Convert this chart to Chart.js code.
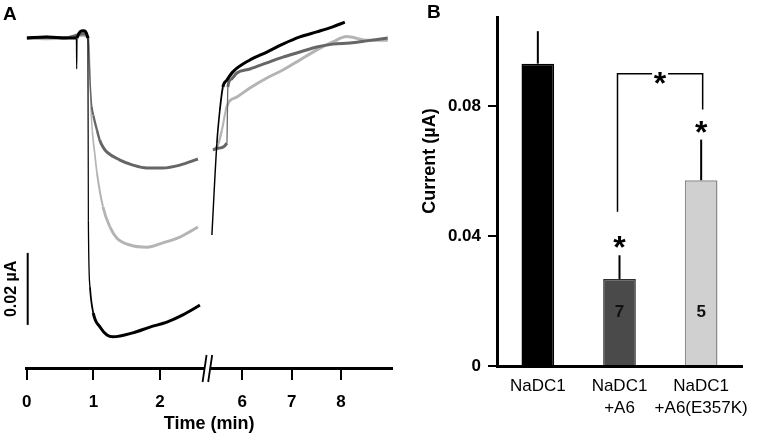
<!DOCTYPE html>
<html>
<head>
<meta charset="utf-8">
<script src="https://cdn.jsdelivr.net/npm/chart.js@4.4.0/dist/chart.umd.min.js"></script>
<style>
  body { margin: 0; background: #fff; }
  #wrapA { position: absolute; left: 0; top: 0; width: 400px; height: 438px; }
  #wrapB { position: absolute; left: 400px; top: 0; width: 361px; height: 438px; }
</style>
</head>
<body>
<div id="wrapA"><canvas id="traceChart" width="400" height="438"></canvas></div>
<div id="wrapB"><canvas id="barChart" width="361" height="438"></canvas></div>
<script>
// Panel A - current traces, time in min, current in uA relative to baseline
// (null current = axis break)
var blackTime = [0, 0.3, 0.6, 0.745, 0.75, 0.755, 0.85, 0.918, 0.925, 0.949, 0.9985, 1.099, 1.204, 1.294, 1.594, 1.849, 2.103, 2.343, 2.598,
                 2.7, 5.388, 5.489, 5.549, 5.610, 5.691, 5.812, 6.156, 6.499, 6.822, 7.166, 7.509, 7.832, 8.075];
var blackCurrent = [0, 0.0003, 0, 0, -0.0086, 0, 0.0020, 0, -0.0506, -0.0692, -0.0764, -0.0803, -0.0825, -0.0830, -0.0819, -0.0803, -0.0789, -0.0769, -0.0742,
                    null, -0.0547, -0.0292, -0.0200, -0.0136, -0.0117, -0.0094, -0.0061, -0.0039, -0.0017, 0.0003, 0.0017, 0.0031, 0.0044];

var darkTime = [0, 0.3, 0.6, 0.85, 0.92, 0.95, 0.975, 1.0, 1.054, 1.094, 1.144, 1.204, 1.399, 1.594, 1.804, 2.043, 2.298, 2.568,
                2.7, 5.408, 5.509, 5.691, 5.711, 5.772, 5.893, 6.156, 6.499, 6.822, 7.166, 7.509, 7.832, 8.176, 8.519, 8.943];
var darkCurrent = [0, 0.0002, 0.0001, 0.0012, 0, -0.0120, -0.0190, -0.0215, -0.0256, -0.0283, -0.0303, -0.0317, -0.0339, -0.0353, -0.0361, -0.0361, -0.0353, -0.0336,
                   null, -0.0311, -0.0306, -0.0292, -0.0136, -0.0115, -0.0097, -0.0086, -0.0069, -0.0053, -0.0039, -0.0025, -0.0017, -0.0014, -0.0008, 0];

var lightTime = [0, 0.3, 0.6, 0.85, 0.93, 0.965, 0.985, 1.02, 1.054, 1.144, 1.249, 1.354, 1.549, 1.804, 2.043, 2.298, 2.568,
                 2.7, 5.428, 5.509, 5.590, 5.671, 5.731, 5.893, 6.156, 6.499, 6.822, 7.166, 7.509, 7.832, 8.115, 8.519, 8.943];
var lightCurrent = [0, -0.0002, 0.0001, 0.0008, 0, -0.0200, -0.0260, -0.0320, -0.0375, -0.0469, -0.0525, -0.0556, -0.0575, -0.0581, -0.0569, -0.0553, -0.0525,
                    null, -0.0311, -0.0297, -0.0256, -0.0200, -0.0178, -0.0164, -0.0139, -0.0111, -0.0089, -0.0061, -0.0033, -0.0011, 0.0004, -0.0006, -0.0006];

var timeTicks = [0, 1, 2, 6, 7, 8];
var scaleBarTop = -0.0597;
var scaleBarSize = 0.02;

// Panel B - mean current and SEM
var groups = [['NaDC1'], ['NaDC1', '+A6'], ['NaDC1', '+A6(E357K)']];
var meanCurrent = [0.0931, 0.0268, 0.0572];
var semCurrent = [0.0100, 0.0073, 0.0125];
var nCells = ['', '7', '5'];
var starred = [false, true, true];
var yTicksB = [0, 0.04, 0.08];

var FONT = '"Liberation Sans", Arial, sans-serif';
Chart.defaults.font.family = FONT;
Chart.defaults.color = '#000';

// the second time segment is drawn compressed after the break
function toAxis(t) { return t < 4 ? t : 3.232 + 0.742 * (t - 6); }
function trace(times, currents) {
  return times.map(function (t, i) { return {x: toAxis(t), y: currents[i]}; });
}
// noisy flat parts look thick, fast jumps are thin
function segWidth(ctx) {
  var dx = Math.abs(ctx.p1.x - ctx.p0.x), dy = Math.abs(ctx.p1.y - ctx.p0.y);
  return 1.2 + 1.8 * Math.min(1, 2.5 * dx / Math.max(dy, 0.01));
}

var tracePlugin = {
  id: 'traceDeco',
  afterDraw: function (chart) {
    var ctx = chart.ctx, ca = chart.chartArea, xs = chart.scales.x, ys = chart.scales.y;
    ctx.save();
    // scale bar
    var bx = xs.getPixelForValue(0) + 1;
    var by0 = ys.getPixelForValue(scaleBarTop), by1 = ys.getPixelForValue(scaleBarTop - scaleBarSize);
    ctx.strokeStyle = '#000';
    ctx.lineWidth = 2;
    ctx.beginPath(); ctx.moveTo(bx, by0); ctx.lineTo(bx, by1); ctx.stroke();
    ctx.save();
    ctx.translate(12, (by0 + by1) / 2);
    ctx.rotate(-Math.PI / 2);
    ctx.font = 'bold 16px ' + FONT;
    ctx.textAlign = 'center';
    ctx.textBaseline = 'middle';
    ctx.fillText('0.02 \u00b5A', 0, 0);
    ctx.restore();
    // axis break
    var bk = xs.getPixelForValue(2.71);
    ctx.fillStyle = '#fff';
    ctx.fillRect(bk - 2.5, ca.bottom - 3, 5, 6);
    ctx.lineWidth = 1.8;
    ctx.beginPath();
    ctx.moveTo(bk - 4.8, ca.bottom + 14); ctx.lineTo(bk - 0.8, ca.bottom - 13);
    ctx.moveTo(bk + 0.8, ca.bottom + 14); ctx.lineTo(bk + 4.8, ca.bottom - 13);
    ctx.stroke();
    // panel letter
    ctx.fillStyle = '#000';
    ctx.font = 'bold 19px ' + FONT;
    ctx.textAlign = 'left';
    ctx.textBaseline = 'alphabetic';
    ctx.fillText('A', 3, 20);
    ctx.restore();
  }
};

new Chart(document.getElementById('traceChart'), {
  type: 'line',
  data: {
    datasets: [
      {data: trace(blackTime, blackCurrent), borderColor: '#000000'},
      {data: trace(darkTime, darkCurrent), borderColor: '#666666'},
      {data: trace(lightTime, lightCurrent), borderColor: '#b4b4b4'}
    ]
  },
  options: {
    responsive: false,
    animation: false,
    spanGaps: false,
    datasets: {
      line: {
        pointRadius: 0, borderWidth: 3, fill: false,
        cubicInterpolationMode: 'monotone',
        segment: {borderWidth: segWidth}
      }
    },
    layout: {padding: {left: 26.7, right: 8.3, top: 10, bottom: 0}},
    scales: {
      x: {
        type: 'linear', min: 0, max: 5.475,
        afterBuildTicks: function (s) { s.ticks = timeTicks.map(function (t) { return {value: toAxis(t)}; }); },
        afterFit: function (s) { s.height = 70; },
        ticks: {
          callback: function (v, i) { return String(timeTicks[i]); },
          font: {size: 17, weight: 'bold'}, padding: 12, autoSkip: false, maxRotation: 0
        },
        grid: {drawOnChartArea: false, drawTicks: true, tickLength: 12, color: '#000', lineWidth: 2},
        border: {display: true, color: '#000', width: 3},
        title: {display: true, text: 'Time (min)', font: {size: 18, weight: 'bold'}, padding: {top: 0, bottom: 3}}
      },
      y: {display: false, min: -0.09167, max: 0.00778}
    },
    plugins: {legend: {display: false}, tooltip: {enabled: false}}
  },
  plugins: [tracePlugin]
});

// bracket between the two co-expression groups (uA)
var bracketLeft = 0.0475, bracketTop = 0.090, bracketRight = 0.079;
var nLabelLevel = 0.0164;

function star(ctx, x, yc) {
  ctx.font = 'bold 32px ' + FONT;
  ctx.textAlign = 'center';
  ctx.textBaseline = 'alphabetic';
  ctx.fillText('*', x, yc + 18);
}

var barPlugin = {
  id: 'barDeco',
  afterDraw: function (chart) {
    var ctx = chart.ctx, ys = chart.scales.y, meta = chart.getDatasetMeta(0);
    ctx.save();
    ctx.strokeStyle = '#000';
    ctx.fillStyle = '#000';
    ctx.lineWidth = 2;
    meta.data.forEach(function (bar, i) {
      var y0 = ys.getPixelForValue(meanCurrent[i]);
      var y1 = ys.getPixelForValue(meanCurrent[i] + semCurrent[i]);
      ctx.beginPath(); ctx.moveTo(bar.x, y0); ctx.lineTo(bar.x, y1); ctx.stroke();
      if (starred[i]) star(ctx, bar.x, y1 - 15);
      if (nCells[i]) {
        ctx.font = 'bold 17px ' + FONT;
        ctx.textAlign = 'center';
        ctx.textBaseline = 'middle';
        ctx.fillStyle = '#111';
        ctx.fillText(nCells[i], bar.x, ys.getPixelForValue(nLabelLevel));
        ctx.fillStyle = '#000';
      }
    });
    // bracket
    var xl = meta.data[1].x - 2, xr = meta.data[2].x + 1.5, xm = (xl + xr) / 2;
    var yt = ys.getPixelForValue(bracketTop);
    ctx.lineWidth = 1.5;
    ctx.beginPath();
    ctx.moveTo(xl, ys.getPixelForValue(bracketLeft)); ctx.lineTo(xl, yt); ctx.lineTo(xm - 8, yt);
    ctx.moveTo(xm + 8, yt); ctx.lineTo(xr, yt); ctx.lineTo(xr, ys.getPixelForValue(bracketRight));
    ctx.stroke();
    star(ctx, xm, yt + 2);
    // y title
    ctx.save();
    ctx.translate(30, 161);
    ctx.rotate(-Math.PI / 2);
    ctx.font = 'bold 18px ' + FONT;
    ctx.textAlign = 'center';
    ctx.textBaseline = 'middle';
    ctx.fillText('Current (\u00b5A)', 0, 0);
    ctx.restore();
    // panel letter
    ctx.font = 'bold 19px ' + FONT;
    ctx.textAlign = 'left';
    ctx.textBaseline = 'alphabetic';
    ctx.fillText('B', 27, 18);
    ctx.restore();
  }
};

new Chart(document.getElementById('barChart'), {
  type: 'bar',
  data: {
    labels: groups,
    datasets: [{
      data: meanCurrent,
      backgroundColor: ['#000000', '#4a4a4a', '#d0d0d0'],
      borderColor: ['#000000', '#2e2e2e', '#8a8a8a'],
      borderWidth: 1.5,
      barPercentage: 0.8,
      categoryPercentage: 0.5
    }]
  },
  options: {
    responsive: false,
    animation: false,
    layout: {padding: {left: 0, right: 19, top: 13, bottom: 0}},
    scales: {
      x: {
        afterFit: function (s) { s.height = 72; },
        grid: {display: false, drawTicks: false},
        border: {display: true, color: '#000', width: 3},
        ticks: {font: {size: 17, lineHeight: 1.3}, padding: 9, maxRotation: 0, autoSkip: false}
      },
      y: {
        min: 0, max: 0.1074,
        afterFit: function (s) { s.width = 97; },
        afterBuildTicks: function (s) { s.ticks = yTicksB.map(function (v) { return {value: v}; }); },
        ticks: {
          callback: function (v) { return v === 0 ? '0' : v.toFixed(2); },
          font: {size: 17, weight: 'bold'}, padding: 7
        },
        grid: {drawOnChartArea: false, drawTicks: true, tickLength: 9, color: '#000', lineWidth: 2},
        border: {display: true, color: '#000', width: 3}
      }
    },
    plugins: {legend: {display: false}, tooltip: {enabled: false}}
  },
  plugins: [barPlugin]
});
</script>
</body>
</html>
